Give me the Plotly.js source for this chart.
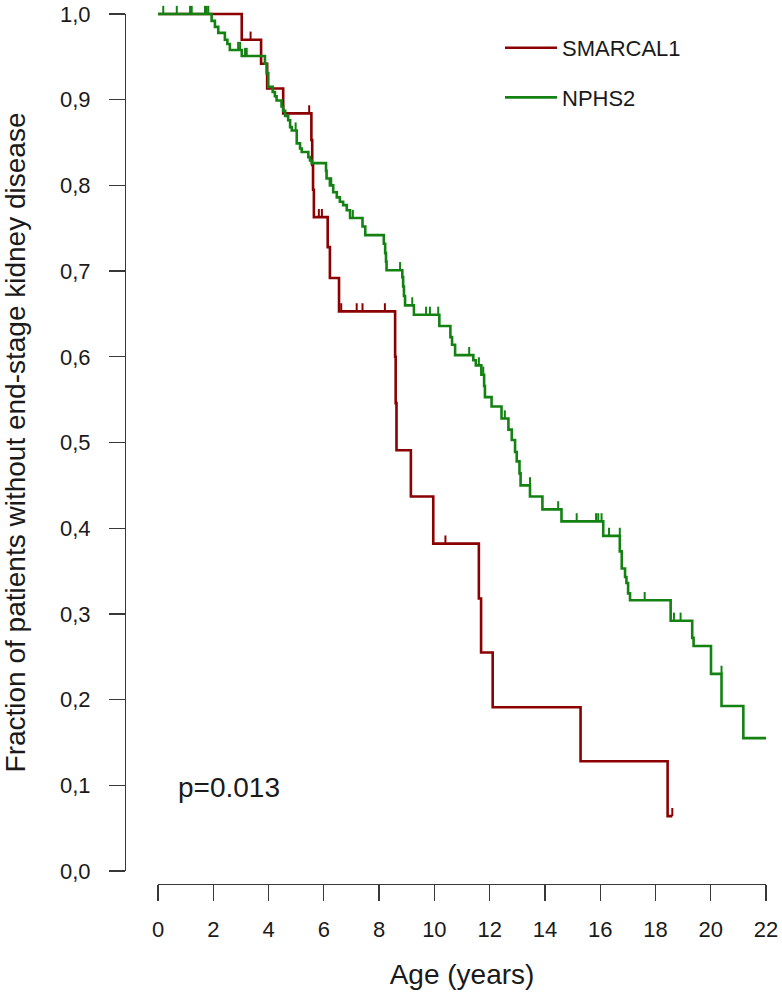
<!DOCTYPE html>
<html>
<head>
<meta charset="utf-8">
<script src="https://cdn.plot.ly/plotly-3.0.1.min.js"></script>
<style>html,body{margin:0;padding:0;background:#fff;}#chart{width:782px;height:994px;}</style>
</head>
<body>
<div id="chart"></div>
<script>
// ---- Data ----
const seriesNames = ['SMARCAL1', 'NPHS2'];

// SMARCAL1 Kaplan-Meier steps: time (years) and survival after each event
const smarcalTime = [0, 3.03, 3.73, 3.95, 4.53, 5.55, 5.58, 5.61, 5.64, 6.14, 6.22, 6.55, 8.58, 8.60, 8.63, 9.15, 9.96, 11.61, 11.69, 12.11, 15.29, 18.44, 18.61];
const smarcalSurv = [1.0, 0.970, 0.942, 0.913, 0.884, 0.853, 0.824, 0.795, 0.763, 0.728, 0.692, 0.653, 0.600, 0.546, 0.491, 0.437, 0.382, 0.318, 0.255, 0.191, 0.128, 0.064, 0.064];
// SMARCAL1 censoring marks
const smarcalCensTime = [3.35, 5.47, 5.82, 5.93, 6.63, 7.19, 7.40, 8.21, 10.40, 18.61];
const smarcalCensSurv = [0.970, 0.884, 0.763, 0.763, 0.653, 0.653, 0.653, 0.653, 0.382, 0.064];

// NPHS2 Kaplan-Meier steps
const nphsTime = [0, 1.94, 2.06, 2.18, 2.42, 2.51, 2.60, 3.03, 3.87, 3.93, 3.99, 4.15, 4.23, 4.29, 4.47, 4.53, 4.60, 4.71, 4.78, 4.84, 5.02, 5.14, 5.20, 5.44, 5.50, 5.56,
  6.08, 6.10, 6.22, 6.34, 6.47, 6.58, 6.70, 6.83, 6.95, 7.40, 7.50, 8.17, 8.22, 8.25, 8.27, 8.84, 8.87, 8.90, 8.94, 9.26, 10.18, 10.58, 10.64, 10.75,
  11.41, 11.50, 11.70, 11.80, 11.83, 12.07, 12.43, 12.68, 12.80, 12.92, 12.98, 13.08, 13.12, 13.46, 13.91, 14.60, 16.11, 16.71, 16.78, 16.90, 16.95, 17.01, 17.08,
  18.55, 19.33, 19.38, 20.01, 20.39, 21.18, 22.0];
const nphsSurv = [1.0, 0.992, 0.985, 0.978, 0.970, 0.965, 0.958, 0.951, 0.942, 0.931, 0.915, 0.909, 0.904, 0.899, 0.892, 0.887, 0.881, 0.876, 0.868, 0.864, 0.849, 0.843, 0.839, 0.833, 0.829, 0.826,
  0.817, 0.808, 0.800, 0.792, 0.786, 0.781, 0.777, 0.771, 0.762, 0.752, 0.742, 0.732, 0.721, 0.711, 0.701, 0.693, 0.682, 0.671, 0.660, 0.649, 0.636, 0.623, 0.614, 0.602,
  0.596, 0.590, 0.579, 0.566, 0.553, 0.542, 0.528, 0.515, 0.503, 0.489, 0.478, 0.464, 0.450, 0.437, 0.422, 0.408, 0.391, 0.373, 0.353, 0.343, 0.336, 0.324, 0.316,
  0.292, 0.272, 0.2625, 0.230, 0.1925, 0.155, 0.155];
// NPHS2 censoring marks
const nphsCensTime = [0.19, 0.68, 1.16, 1.22, 1.70, 1.76, 1.82, 2.90, 2.97, 3.15, 3.21, 4.98, 6.27, 7.05, 8.76, 9.20, 9.70, 9.84, 10.14, 11.26, 11.61, 11.77, 12.55, 13.46, 14.48, 15.15, 15.85, 15.93, 16.05, 16.32, 16.71, 17.61, 18.67, 18.91, 20.39];
const nphsCensSurv = [1, 1, 1, 1, 1, 1, 1, 0.958, 0.958, 0.951, 0.951, 0.864, 0.800, 0.762, 0.701, 0.660, 0.649, 0.649, 0.649, 0.602, 0.590, 0.579, 0.528, 0.450, 0.422, 0.408, 0.408, 0.408, 0.408, 0.391, 0.391, 0.316, 0.292, 0.292, 0.230];

const xTickVals = [0, 2, 4, 6, 8, 10, 12, 14, 16, 18, 20, 22];
const yTickVals = [0, 0.1, 0.2, 0.3, 0.4, 0.5, 0.6, 0.7, 0.8, 0.9, 1.0];
const yTickText = ['0,0', '0,1', '0,2', '0,3', '0,4', '0,5', '0,6', '0,7', '0,8', '0,9', '1,0'];
const pValueText = 'p=0.013';

// ---- Styling ----
const RED = '#8b0000';
const GREEN = '#138213';
const AX = '#383838';
const TXT = '#1a1a1a';
const FONT = 'Liberation Sans, Arial, sans-serif';
const W = 782, H = 994;

function censorTrace(x, y, color) {
  return {
    x: x, y: y, type: 'scatter', mode: 'markers', xaxis: 'x', yaxis: 'y',
    marker: {size: 1, color: 'rgba(0,0,0,0)'},
    error_y: {type: 'constant', symmetric: false, value: 0.0095, valueminus: 0, width: 0, thickness: 2, color: color},
    showlegend: false, hoverinfo: 'skip'
  };
}

const traces = [
  {x: smarcalTime, y: smarcalSurv, type: 'scatter', mode: 'lines', name: seriesNames[0], legendgroup: 'a',
   line: {shape: 'hv', color: RED, width: 2.6}, xaxis: 'x', yaxis: 'y'},
  {x: nphsTime, y: nphsSurv, type: 'scatter', mode: 'lines', name: seriesNames[1], legendgroup: 'b',
   line: {shape: 'hv', color: GREEN, width: 2.6}, xaxis: 'x', yaxis: 'y'},
  censorTrace(smarcalCensTime, smarcalCensSurv, RED),
  censorTrace(nphsCensTime, nphsCensSurv, GREEN),
  {x: [], y: [], type: 'scatter', mode: 'lines', xaxis: 'x', yaxis: 'y2', showlegend: false, hoverinfo: 'skip'}
];

const layout = {
  width: W, height: H,
  margin: {l: 0, r: 0, t: 0, b: 0, autoexpand: false},
  paper_bgcolor: '#ffffff', plot_bgcolor: 'rgba(0,0,0,0)',
  font: {family: FONT, color: TXT},
  showlegend: true,
  xaxis: {
    domain: [158 / W, 766 / W], range: [0, 22], anchor: 'free', position: (H - 884) / H,
    showline: true, linecolor: AX, linewidth: 1.3, ticks: 'outside', ticklen: 16, tickwidth: 1.3, tickcolor: AX,
    tickvals: xTickVals, tickfont: {size: 22, color: TXT, family: FONT}, showgrid: false, zeroline: false,
    automargin: false, ticklabelstandoff: 9,
    title: {text: 'Age (years)', font: {size: 28, color: TXT, family: FONT}, standoff: 23}
  },
  yaxis: {
    domain: [(H - 880) / H, (H - 5) / H], range: [-9 / 857, 866 / 857], visible: false, fixedrange: true
  },
  yaxis2: {
    domain: [(H - 871) / H, (H - 14) / H], range: [0, 1], anchor: 'free', position: 125 / W,
    showline: true, linecolor: AX, linewidth: 1.3, ticks: 'outside', ticklen: 16, tickwidth: 1.3, tickcolor: AX,
    tickvals: yTickVals, ticktext: yTickText, tickfont: {size: 22, color: TXT, family: FONT},
    showgrid: false, zeroline: false, automargin: false, ticklabelstandoff: 14,
    title: {text: 'Fraction of patients without end-stage kidney disease', font: {size: 28, color: TXT, family: FONT}, standoff: 30}
  },
  legend: {
    x: 500 / W, y: (H - 27) / H, xanchor: 'left', yanchor: 'top',
    font: {size: 22, color: TXT, family: FONT}, bgcolor: 'rgba(0,0,0,0)',
    tracegroupgap: 18, itemwidth: 52
  },
  annotations: [{
    text: pValueText, xref: 'x', yref: 'y', x: 0.65, y: 0.097, xanchor: 'left', yanchor: 'middle',
    showarrow: false, font: {size: 28, color: TXT, family: FONT}
  }]
};

Plotly.newPlot('chart', traces, layout, {staticPlot: true, displayModeBar: false});
</script>
</body>
</html>
